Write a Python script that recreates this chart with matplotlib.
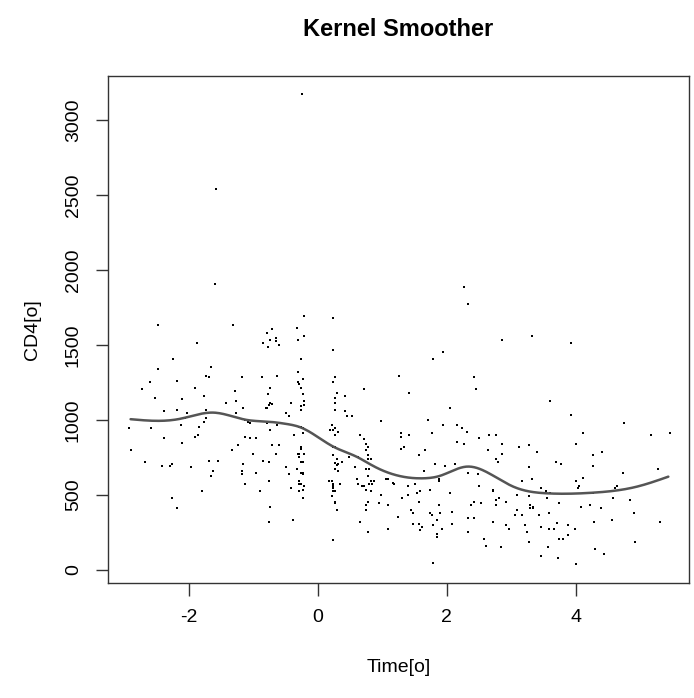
import numpy as np
import matplotlib
matplotlib.use("Agg")
import matplotlib.pyplot as plt

plt.rcParams['font.family'] = ['Liberation Sans', 'DejaVu Sans']

# Observed time since seroconversion (years) and CD4 counts
time_o = [
    # upper outliers
    -0.24, -1.58, -1.60, -2.47, -1.31, -0.71, -0.32, -0.21, 0.24, 2.27, 2.32,
    # before seroconversion, upper band
    -0.78, -0.85, -0.74, -0.65, -0.65, -0.60, -0.77, -1.87, -2.24, -2.47,
    -1.66, -1.73, -1.68, -2.60, -2.18, -1.18, -0.86, -0.63, -0.31, -0.30,
    -2.73, -1.91, -1.28, -0.74, -0.77, -0.30, -2.52, -2.10, -1.76, -1.42,
    -1.26, -0.76, -0.74, -0.71, -0.81, -0.79, -0.42, -2.39, -2.18, -2.02,
    -1.73, -1.26, -1.16, -0.49, -0.44, -1.73, -1.76, -2.05, -1.13, -1.08,
    -1.05, -0.79, -0.63, -2.92, -2.58, -2.12, -1.84, -0.74, -2.39, -1.91,
    -1.86, -1.13, -1.05, -0.95, -0.37, -2.10, -2.89, -1.33, -1.23, -0.71,
    -0.60, -1.00, -0.65, -0.30,
    # around seroconversion, upper band
    -0.21, 0.24, -0.26, -0.23, -0.29, -0.26, -0.23, -0.21, -0.21, -0.26,
    -0.26, 0.27, 0.24, 0.30, 0.27, 0.27, 0.27, 0.42, 0.72, 0.42,
    0.45, 0.53, 1.26, 1.41, 1.79, 1.94, 0.98, -0.26, -0.29, -0.23,
    -0.23, 0.22, 0.19, 0.24, 0.27, 0.32, 0.27, 0.66, 0.72, 0.74,
    0.77, 0.74, 0.24, 0.27, -0.26, -0.26, -0.29, -0.21, -0.29, 0.24,
    0.30, 0.48, 0.63, 0.77, 0.82, 0.77, 1.29, 1.29, 1.41, 1.29,
    1.34, 1.66, 1.56, 1.71, 1.77, 1.94, 2.05, 2.15, 2.24, 2.31,
    2.15, 2.26, 2.42, 2.45, 2.50, 2.65, 2.63,
    # later years, upper band
    2.86, 3.32, 3.92, 3.60, 3.92, 4.74, 4.11, 5.16, 5.45, 2.76,
    2.86, 3.11, 3.27, 2.86, 2.76, 3.40, 4.00, 4.26, 4.40,
    # before seroconversion, lower band
    -2.68, -2.42, -2.29, -2.26, -1.97, -1.68, -1.55, -1.63, -1.65, -1.16,
    -1.18, -1.18, -0.95, -0.85, -0.76, -0.49, -0.44, -0.32, -1.13, -0.76,
    -0.29, -0.29, -1.79, -0.89, -0.42, -0.29, -2.26, -2.18, -0.74, -0.76,
    -0.39,
    # around seroconversion, lower band
    -0.26, -0.23, -0.26, -0.23, -0.23, -0.26, -0.21, -0.23, -0.23, 0.27,
    0.30, 0.32, 0.27, 0.32, 0.37, 0.17, 0.22, 0.24, 0.24, 0.24,
    0.35, 0.24, 0.27, 0.22, 0.27, 0.27, 0.30, 0.24, 0.58, 0.74,
    0.79, 0.77, 0.82, 0.87, 0.61, 0.63, 0.68, 0.72, 0.79, 0.84,
    0.74, 0.82, 0.77, 0.74, 0.74, 0.66, 0.77, 0.98, 0.95, 1.08,
    1.08, 1.06, 1.08, 1.16, 1.18, 1.24, 1.31, 1.39, 1.39, 1.51,
    1.53, 1.58, 1.56, 1.44, 1.48, 1.48, 1.56, 1.61, 1.58, 1.64,
    1.74, 1.74, 1.77, 1.89, 1.79, 1.84, 1.87, 1.92, 1.84, 1.84,
    1.79, 1.82, 1.97, 1.87, 1.87, 2.13, 2.05, 2.08, 2.08, 2.32,
    2.50, 2.32, 2.42, 2.32, 2.38, 2.42, 2.53, 2.48, 2.58, 2.60,
    # later years, lower band
    2.79, 3.27, 3.69, 3.77, 4.26, 4.72, 5.27, 3.16, 3.32, 4.00,
    4.11, 4.05, 4.03, 4.60, 4.63, 3.45, 3.53, 3.60, 3.24, 3.27,
    2.71, 2.71, 3.08, 3.55, 4.26, 4.58, 4.84, 2.76, 2.81, 2.92,
    2.76, 3.29, 3.34, 3.34, 3.29, 3.74, 4.08, 4.21, 4.38, 3.08,
    3.06, 3.16, 3.42, 3.58, 4.90, 2.71, 2.92, 2.96, 3.21, 3.24,
    3.45, 3.58, 3.66, 3.71, 3.87, 3.98, 3.87, 3.74, 3.80, 4.28,
    4.56, 5.30, 2.84, 3.27, 3.56, 3.45, 3.72, 4.00, 4.29, 4.43,
    4.92,
]

cd4_o = [
    3175, 2542, 1907, 1635, 1635, 1607, 1613, 1691, 1680, 1885, 1771,
    1578, 1511, 1533, 1545, 1525, 1500, 1489, 1511, 1409, 1340,
    1351, 1295, 1285, 1251, 1262, 1285, 1285, 1295, 1318, 1533,
    1205, 1215, 1193, 1215, 1171, 1251, 1149, 1138, 1160, 1115,
    1127, 1102, 1115, 1107, 1080, 1080, 1115, 1058, 1069, 1047,
    1069, 1047, 1080, 1047, 1025, 1011, 989, 1011, 1000, 989,
    978, 978, 967, 945, 945, 967, 955, 933, 878, 889,
    900, 889, 878, 878, 900, 845, 798, 798, 831, 831,
    831, 775, 775, 775,
    1558, 1465, 1409, 1273, 1240, 1215, 1171, 1127, 1102, 1091,
    1069, 1285, 1251, 1182, 1149, 1115, 1069, 1160, 1205, 1058,
    1025, 1025, 1295, 1182, 1409, 1453, 991, 955, 955, 945,
    911, 967, 933, 933, 945, 922, 900, 898, 875, 842,
    820, 798, 820, 820, 820, 809, 775, 775, 753, 765,
    742, 753, 753, 765, 742, 742, 911, 889, 900, 809,
    820, 798, 765, 1002, 911, 967, 1080, 967, 945, 922,
    853, 842, 1285, 1205, 878, 900, 798,
    1533, 1558, 1511, 1127, 1035, 978, 911, 900, 911, 900,
    842, 820, 831, 775, 742, 787, 842, 765, 787,
    718, 695, 695, 707, 685, 729, 729, 662, 627, 707,
    662, 638, 649, 729, 718, 685, 638, 673, 571, 593,
    593, 571, 525, 525, 549, 525, 480, 411, 422, 322,
    331,
    722, 718, 649, 645, 638, 571, 560, 535, 480, 711,
    700, 707, 671, 660, 718, 593, 593, 571, 560, 549,
    571, 525, 525, 491, 455, 445, 400, 198, 685, 671,
    671, 627, 593, 593, 605, 571, 560, 560, 571, 571,
    535, 525, 455, 433, 400, 322, 253, 502, 445, 433,
    275, 605, 605, 582, 571, 355, 480, 558, 502, 571,
    513, 525, 455, 400, 378, 309, 309, 287, 265, 660,
    535, 378, 367, 378, 298, 331, 433, 275, 242, 218,
    49, 705, 695, 605, 593, 705, 513, 389, 309, 649,
    560, 345, 345, 253, 433, 455, 445, 638, 209, 162,
    718, 685, 718, 707, 695, 649, 671, 593, 605, 593,
    615, 558, 547, 547, 558, 547, 525, 513, 525, 491,
    535, 525, 502, 480, 513, 480, 469, 469, 480, 455,
    433, 433, 422, 411, 411, 445, 422, 433, 411, 400,
    367, 367, 367, 378, 378, 322, 298, 275, 298, 253,
    287, 275, 275, 311, 298, 275, 231, 209, 209, 322,
    331, 322, 151, 185, 151, 93, 82, 38, 140, 107,
    185,
]

# Kernel smoother fit, sampled along the time axis
smooth_t = [-2.90, -2.14, -1.62, -1.10, -0.79, -0.48, -0.27, 0.24, 0.60, 0.86,
            1.24, 1.64, 1.89, 2.31, 2.67, 3.03, 3.54, 4.26, 4.68, 4.94, 5.43]
smooth_v = [1005, 1007, 1049, 1000, 989, 973, 951, 822, 755, 693,
            629, 611, 627, 689, 640, 555, 511, 515, 533, 555, 622]

x_ticks = [-2, 0, 2, 4]
y_ticks = [0, 500, 1000, 1500, 2000, 2500, 3000]


def natural_spline(xk, yk, xs):
    xk = np.asarray(xk, float)
    yk = np.asarray(yk, float)
    n = len(xk)
    h = np.diff(xk)
    A = np.zeros((n, n))
    r = np.zeros(n)
    A[0, 0] = A[-1, -1] = 1.0
    for i in range(1, n - 1):
        A[i, i - 1] = h[i - 1]
        A[i, i] = 2 * (h[i - 1] + h[i])
        A[i, i + 1] = h[i]
        r[i] = 6 * ((yk[i + 1] - yk[i]) / h[i] - (yk[i] - yk[i - 1]) / h[i - 1])
    M = np.linalg.solve(A, r)
    idx = np.clip(np.searchsorted(xk, xs) - 1, 0, n - 2)
    x0, x1 = xk[idx], xk[idx + 1]
    hh = x1 - x0
    return (M[idx] * (x1 - xs) ** 3 / (6 * hh) + M[idx + 1] * (xs - x0) ** 3 / (6 * hh)
            + (yk[idx] / hh - M[idx] * hh / 6) * (x1 - xs)
            + (yk[idx + 1] / hh - M[idx + 1] * hh / 6) * (xs - x0))


W, H = 694, 698
fig = plt.figure(figsize=(W / 100, H / 100), dpi=100)
left, right, top, bottom = 108, 689, 76, 583
ax = fig.add_axes([left / W, 1 - bottom / H, (right - left) / W, (bottom - top) / H])

ax.plot(time_o, cd4_o, linestyle='none', marker='s', markersize=1.5,
        markerfacecolor='black', markeredgewidth=0, color='black')

ts = np.linspace(smooth_t[0], smooth_t[-1], 400)
ax.plot(ts, natural_spline(smooth_t, smooth_v, ts), color='#555555', linewidth=1.8,
        solid_capstyle='round')

ax.set_xlim(-3.25, 5.75)
ax.set_ylim(-87, 3293)
ax.set_xticks(x_ticks)
ax.set_yticks(y_ticks)
ax.set_xticklabels([str(v) for v in x_ticks])
ax.set_yticklabels([str(v) for v in y_ticks])

for s in ax.spines.values():
    s.set_linewidth(1.0)
    s.set_color('#333333')

ax.tick_params(axis='both', length=9, width=1.0, color='#333333', labelsize=14, pad=10)
for lbl in ax.get_yticklabels():
    lbl.set_rotation(90)
    lbl.set_va('center')
    lbl.set_ha('center')
ax.tick_params(axis='y', pad=16)

fig.text((left + right) / 2 / W, 1 - 30 / H, 'Kernel Smoother', ha='center', va='center',
         fontsize=17, fontweight='bold')
fig.text((left + right) / 2 / W, 1 - 668 / H, 'Time[o]', ha='center', va='center', fontsize=14)
fig.text(33 / W, 1 - 330 / H, 'CD4[o]', ha='center', va='center', fontsize=14, rotation=90)

fig.savefig('out.png', dpi=100)
